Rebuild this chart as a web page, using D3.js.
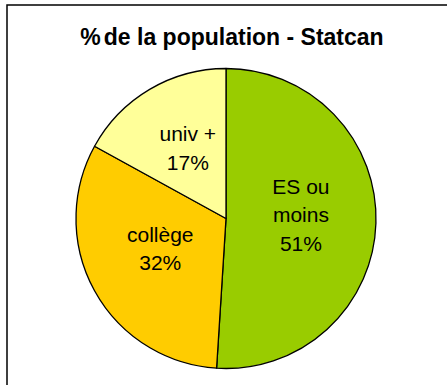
<!DOCTYPE html>
<html>
<head>
<meta charset="utf-8">
<script src="https://cdn.jsdelivr.net/npm/d3@7"></script>
<style>
  html, body { margin: 0; padding: 0; background: #fff; }
  svg { display: block; font-family: "Liberation Sans", Arial, sans-serif; }
</style>
</head>
<body>
<svg id="chart" width="447" height="385"></svg>
<script>
// Share of the population by education level (Statistics Canada)
const categories = ["ES ou moins", "collège", "univ +"];
const labelLines = [["ES ou", "moins"], ["collège"], ["univ +"]];
const values = [51, 32, 17];
const colors = ["#99CC00", "#FFCC00", "#FFFF99"];
const title = ["%", "de la population - Statcan"];

const svg = d3.select("#chart");
const W = 447, H = 385;

// chart frame (extends past the right and bottom edges)
svg.append("rect")
  .attr("x", 7).attr("y", 5)
  .attr("width", W + 20).attr("height", H + 20)
  .attr("fill", "#fff")
  .attr("stroke", "#000")
  .attr("stroke-width", 1.5);

// title
const t = svg.append("text")
  .attr("x", 232).attr("y", 45)
  .attr("text-anchor", "middle")
  .attr("font-size", 23)
  .attr("font-weight", "bold")
  .attr("fill", "#000");
t.append("tspan").text(title[0]);
t.append("tspan").attr("dx", 3).text(title[1]);

const cx = 226, cy = 218.5, r = 150;
const g = svg.append("g").attr("transform", `translate(${cx},${cy})`);

const pie = d3.pie().sort(null).value(d => d.value);
const data = pie(categories.map((c, i) => ({ name: c, value: values[i], lines: labelLines[i], color: colors[i] })));

const arc = d3.arc().innerRadius(0).outerRadius(r);
const labelArc = d3.arc().innerRadius(r * 0.5).outerRadius(r * 0.5);

g.selectAll("path.slice")
  .data(data)
  .join("path")
  .attr("class", "slice")
  .attr("d", arc)
  .attr("fill", d => d.data.color)
  .attr("stroke", "#000")
  .attr("stroke-width", 1.3)
  .attr("stroke-linejoin", "round");

const lineH = 28.5;
const fontSize = 21;
g.selectAll("text.lbl")
  .data(data)
  .join("text")
  .attr("class", "lbl")
  .attr("text-anchor", "middle")
  .attr("font-size", fontSize)
  .attr("fill", "#000")
  .each(function(d) {
    const [x, y] = labelArc.centroid(d);
    const lines = d.data.lines.concat([d.data.value + "%"]);
    const n = lines.length;
    // vertically center the block of lines on the label point
    const firstBaseline = y - 6 - (n - 1) * lineH / 2 + fontSize * 0.36;
    const sel = d3.select(this);
    lines.forEach((ln, i) => {
      sel.append("tspan")
        .attr("x", x)
        .attr("y", firstBaseline + i * lineH)
        .text(ln);
    });
  });
</script>
</body>
</html>
